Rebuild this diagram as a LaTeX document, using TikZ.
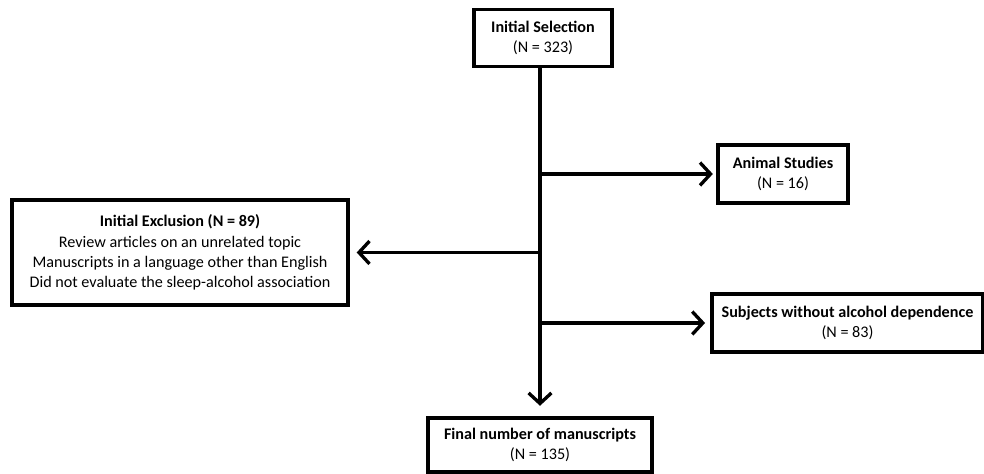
\documentclass[tikz,border=0pt]{standalone}
\usepackage{fontspec}
\setmainfont{Carlito}
\usetikzlibrary{arrows.meta,positioning}

\begin{document}
\begin{tikzpicture}[
  box/.style={rectangle,draw,line width=1.9pt,align=center,
              font=\fontsize{9.2}{11.5}\selectfont,inner sep=2pt},
  arrow/.style={-{Straight Barb[length=6pt,width=13pt,line width=1.9pt]},line width=1.9pt}
]
\useasboundingbox (0,0) rectangle (19.68,9.48);

\node[box,minimum width=2.76cm,minimum height=1.14cm] (sel) at (10.86,8.72)
  {\textbf{Initial Selection}\\(N = 323)};
\node[box,minimum width=2.6cm,minimum height=1.16cm] (animal) at (15.66,6.0)
  {\textbf{Animal Studies}\\(N = 16)};
\node[box,minimum width=6.72cm,minimum height=2.1cm] (excl) at (3.6,4.43)
  {\textbf{Initial Exclusion (N = 89)}\\Review articles on an unrelated topic\\
   Manuscripts in a language other than English\\Did not evaluate the sleep-alcohol association};
\node[box,minimum width=5.42cm,minimum height=1.16cm] (subj) at (16.95,3.02)
  {\textbf{Subjects without alcohol dependence}\\(N = 83)};
\node[box,minimum width=4.48cm,minimum height=1.08cm] (final) at (10.8,0.58)
  {\textbf{Final number of manuscripts}\\(N = 135)};

% trunk and branches
\coordinate (top) at (final.north |- sel.south);
\coordinate (j1) at (final.north |- animal.west);
\coordinate (j2) at (final.north |- excl.east);
\coordinate (j3) at (final.north |- subj.west);

\draw[line width=1.9pt] (top) -- (j3);
\draw[arrow] (j3) -- ([yshift=6pt]final.north);
\draw[arrow] (j1) -- ([xshift=-2pt]animal.west);
\draw[arrow] (j2) -- ([xshift=4pt]excl.east);
\draw[arrow] (j3) -- ([xshift=-3pt]subj.west);
\end{tikzpicture}
\end{document}
